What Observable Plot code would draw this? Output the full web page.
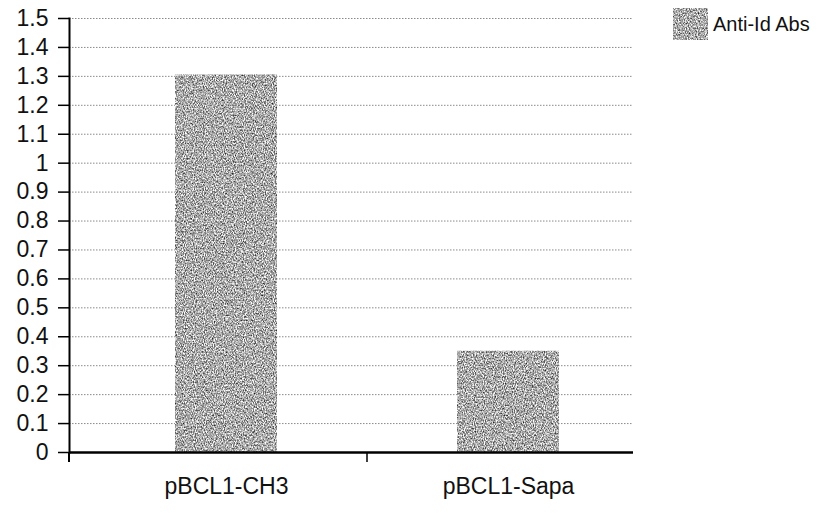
<!DOCTYPE html>
<html><head>
<meta charset="utf-8">
<script src="https://cdn.jsdelivr.net/npm/d3@7"></script>
<script src="https://cdn.jsdelivr.net/npm/@observablehq/plot@0.6"></script>
<style>
body{margin:0;background:#fff;font-family:"Liberation Sans",Arial,Helvetica,sans-serif}
#wrap{position:relative;width:817px;height:513px;overflow:hidden}
#legend{position:absolute;left:673px;top:8px;display:flex;align-items:center;font-size:20px;color:#111}
#legend svg{margin-right:5px;display:block}
</style></head><body>
<div id="wrap">
<svg width="0" height="0" style="position:absolute">
  <defs>
    <filter id="grain" x="0" y="0" width="1" height="1" color-interpolation-filters="sRGB">
      <feTurbulence type="fractalNoise" baseFrequency="0.9 0.6" numOctaves="2" seed="7" result="t"/>
      <feColorMatrix in="t" type="matrix" values="1.5 0 0 0 -0.08  1.5 0 0 0 -0.08  1.5 0 0 0 -0.08  0 0 0 0 1" result="n"/>
      <feComposite in="n" in2="SourceGraphic" operator="in"/>
    </filter>
  </defs>
</svg>
<div id="legend"><svg width="35" height="32"><rect width="35" height="32" fill="#a2a2a2" filter="url(#grain)"></rect></svg><span id="legtext"></span></div>
</div>
<script>
const categories = ["pBCL1-CH3", "pBCL1-Sapa"];
const values = [1.305, 0.35];
const seriesName = "Anti-Id Abs";
const yTicks = [0, 0.1, 0.2, 0.3, 0.4, 0.5, 0.6, 0.7, 0.8, 0.9, 1, 1.1, 1.2, 1.3, 1.4, 1.5];

const data = categories.map((c, i) => ({category: c, value: values[i]}));
document.getElementById("legtext").textContent = seriesName;

const plot = Plot.plot({
  width: 817, height: 513,
  marginLeft: 69, marginRight: 184, marginTop: 18, marginBottom: 61,
  style: {fontFamily: '"Liberation Sans", Arial, Helvetica, sans-serif', fontSize: "23px", color: "#111", background: "#fff"},
  x: {domain: categories, range: [85, 649], padding: 0},
  y: {domain: [0, 1.5]},
  marks: [
    Plot.ruleY(yTicks.slice(1), {stroke: "#8a8a8a", strokeWidth: 1, strokeDasharray: "1.5,1.5"}),
    Plot.barY(data, {x: "category", y: "value", fill: "#a2a2a2", insetLeft: 90, insetRight: 90}),
    Plot.axisY({ticks: yTicks, tickSize: 11, tickPadding: 10, tickFormat: d => String(d), label: null, fontSize: 23, stroke: "#000", strokeWidth: 1.5}),
    Plot.axisX({tickSize: 0, tickPadding: 25, label: null, fontSize: 23}),
    Plot.frame({anchor: "left", stroke: "#000", strokeWidth: 2}),
    Plot.ruleY([0], {stroke: "#000", strokeWidth: 2.5})
  ]
});

// texture on bars
d3.select(plot).selectAll('g[aria-label="bar"] rect').attr("filter", "url(#grain)");

// axis extensions derived from the scales
const xs = plot.scale("x"), ys = plot.scale("y");
const svg = d3.select(plot);
const y0 = ys.apply(0);
const bx = xs.apply(categories[1]);
svg.append("line").attr("x1", bx).attr("x2", bx).attr("y1", y0).attr("y2", y0 + 10).attr("stroke", "#000").attr("stroke-width", 1.5);
svg.append("line").attr("x1", 69).attr("x2", 69).attr("y1", y0).attr("y2", y0 + 10).attr("stroke", "#000").attr("stroke-width", 2);
document.getElementById("wrap").appendChild(plot);
</script>
</body></html>
